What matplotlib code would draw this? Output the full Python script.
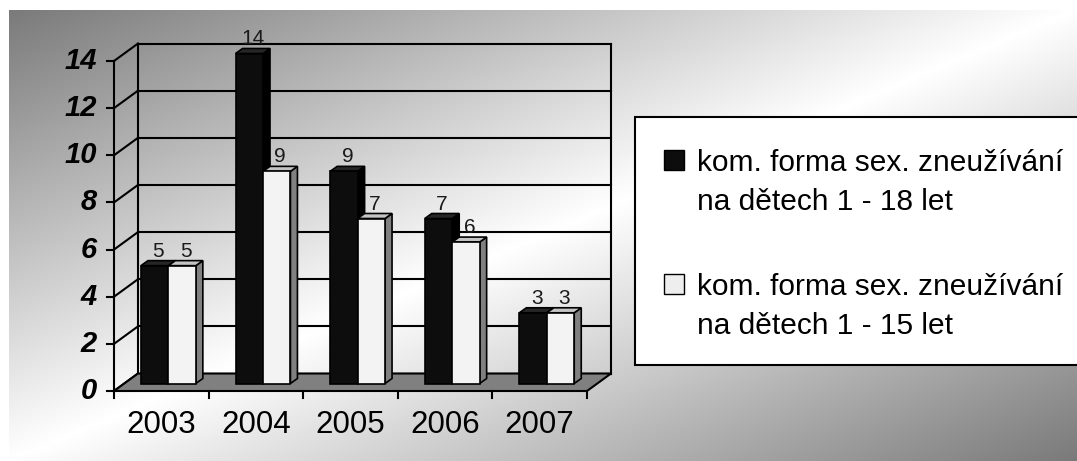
import numpy as np
import matplotlib
matplotlib.use("Agg")
import matplotlib.pyplot as plt
from matplotlib.patches import Polygon, Rectangle

plt.rcParams['font.family'] = ['Liberation Sans', 'DejaVu Sans']

# data
years = ['2003', '2004', '2005', '2006', '2007']
series_18 = [5, 14, 9, 7, 3]
series_15 = [5, 9, 7, 6, 3]
legend_labels = ['kom. forma sex. zneužívání\nna dětech 1 - 18 let',
                 'kom. forma sex. zneužívání\nna dětech 1 - 15 let']
y_ticks = [0, 2, 4, 6, 8, 10, 12, 14]

W, H = 1077, 461
fig = plt.figure(figsize=(W / 100, H / 100), dpi=100)
fig.patch.set_facecolor('white')

# gradient chart area
bg = fig.add_axes([9 / W, 0, (W - 9) / W, (H - 10) / H])
u = np.linspace(0, 1, 400)
v = np.linspace(0, 1, 200)
uu, vv = np.meshgrid(u, v)
grad = 1 - 0.52 * np.abs(uu + vv - 1)
bg.imshow(grad, cmap='gray', vmin=0, vmax=1, aspect='auto', extent=[0, 1, 0, 1])
bg.axis('off')

# front plane of the 3d plot
ax = fig.add_axes([114 / W, (H - 391) / H, 473 / W, 330 / H])
ax.set_xlim(-0.5, 4.5)
ax.set_ylim(0, 14)
ax.axis('off')
ux = 473 / 5      # px per category
uy = 330 / 14     # px per unit

DX, DY = 24 / ux, 17.5 / uy          # full depth
fdx, fdy = 9 / ux, 7.5 / uy          # bar front face
bdx, bdy = 16 / ux, 12.5 / uy        # bar back face
lw = 1.5
x0, x1 = -0.5, len(years) - 0.5

# floor
ax.add_patch(Polygon([(x0, 0), (x1, 0), (x1 + DX, DY), (x0 + DX, DY)],
                     closed=True, facecolor='#808080', edgecolor='black',
                     lw=lw, clip_on=False, zorder=2))
# back wall grid + left wall
for t in y_ticks:
    ax.plot([x0 + DX, x1 + DX], [t + DY, t + DY], color='black', lw=lw,
            clip_on=False, zorder=1)
    ax.plot([x0, x0 + DX], [t, t + DY], color='black', lw=lw,
            clip_on=False, zorder=1)
    ax.plot([x0 - 7 / ux, x0], [t, t], color='black', lw=lw,
            clip_on=False, zorder=6)
    ax.text(x0 - 17 / ux, t, str(t), ha='right', va='center',
            fontsize=21, fontweight='bold', fontstyle='italic')
for xx in [x0 + DX, x1 + DX]:
    ax.plot([xx, xx], [DY, 14 + DY], color='black', lw=lw,
            clip_on=False, zorder=1)
ax.plot([x0, x0], [0, 14], color='black', lw=lw, clip_on=False, zorder=6)

# x axis ticks and labels
for k in range(len(years) + 1):
    ax.plot([x0 + k, x0 + k], [0, -7 / uy], color='black', lw=lw,
            clip_on=False, zorder=6)
for i, yr in enumerate(years):
    ax.text(i, -42 / uy, yr, ha='center', va='baseline', fontsize=22.5)


def bar3d(xl, w, val, front, top, side):
    xr = xl + w
    ax.add_patch(Polygon([(xr + fdx, fdy), (xr + bdx, bdy),
                          (xr + bdx, val + bdy), (xr + fdx, val + fdy)],
                         closed=True, facecolor=side, edgecolor='black',
                         lw=1.2, clip_on=False, zorder=3))
    ax.add_patch(Polygon([(xl + fdx, val + fdy), (xr + fdx, val + fdy),
                          (xr + bdx, val + bdy), (xl + bdx, val + bdy)],
                         closed=True, facecolor=top, edgecolor='black',
                         lw=1.2, clip_on=False, zorder=3))
    ax.add_patch(Rectangle((xl + fdx, fdy), w, val, facecolor=front,
                           edgecolor='black', lw=1.2, clip_on=False, zorder=3))
    ax.text(xl + w / 2 + (fdx + bdx) / 2, val + bdy, str(val),
            ha='center', va='bottom', fontsize=15, color='#1a1a1a', zorder=7)


bw = 0.29
for i in range(len(years)):
    c = i - 0.02
    bar3d(c - bw, bw, series_18[i], '#0d0d0d', '#262626', '#000000')
    bar3d(c, bw, series_15[i], '#f3f3f3', '#c4c4c4', '#808080')

# legend (box runs off the right edge like the original)
fig.patches.append(Rectangle((635 / W, 1 - 365 / H), 460 / W, 248 / H,
                             transform=fig.transFigure, facecolor='white',
                             edgecolor='black', lw=1.5, zorder=5))
entry_base = [171, 295]
fills = ['#0d0d0d', '#eeeeee']
for lab, base, fc in zip(legend_labels, entry_base, fills):
    fig.patches.append(Rectangle((664 / W, 1 - (base - 1) / H), 20 / W, 20 / H,
                                 transform=fig.transFigure, facecolor=fc,
                                 edgecolor='black', lw=1.0, zorder=6))
    for j, line in enumerate(lab.split('\n')):
        fig.text(697 / W, 1 - (base + 38.5 * j) / H, line, ha='left',
                 va='baseline', fontsize=21.5, zorder=7)

fig.savefig('out.png', dpi=100)
